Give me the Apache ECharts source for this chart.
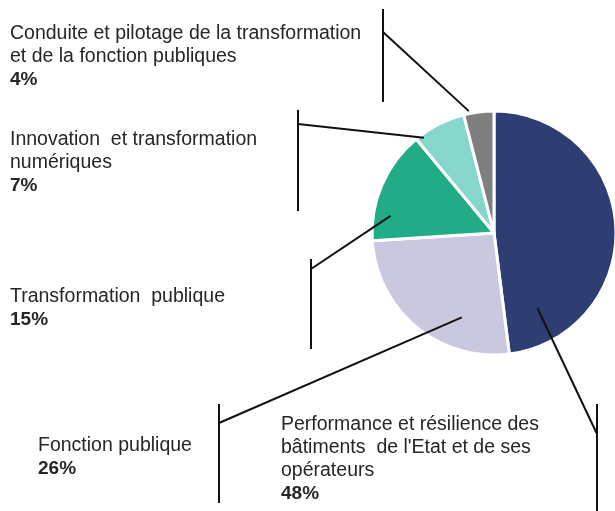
<!DOCTYPE html>
<html><head><meta charset="utf-8">
<script src="https://cdn.jsdelivr.net/npm/echarts@6/dist/echarts.min.js"></script>
<style>html,body{margin:0;padding:0;background:#fff}#c{width:615px;height:511px}</style>
</head><body><div id="c"></div>
<script>
// Data
const categories = [
  "Performance et résilience des\nbâtiments  de l'Etat et de ses\nopérateurs",
  "Fonction publique",
  "Transformation  publique",
  "Innovation  et transformation\nnumériques",
  "Conduite et pilotage de la transformation\net de la fonction publiques"
];
const shares = [48, 26, 15, 7, 4];
const colors = ["#2E3D72", "#C9C8DF", "#22AB87", "#86D6CB", "#7F7F7F"];

// Layout (pixels)
const CX = 494, CY = 233, R = 122;
const labelPos = [[281, 413], [38, 434], [10, 285], [10, 128], [10, 22]];
// anchor: [fraction along slice angle, fraction of radius]
const anchors = [[0.868, 0.71], [0.30, 0.74], [0.24, 0.86], [0.13, 0.97], [0.19, 1.02]];
const junctions = [[597, 434], [219, 423], [311, 269], [298, 124], [383, 32]];
const bars = [[404, 511], [404, 503], [259, 349], [110, 211], [9, 102]];

const total = shares.reduce((a, b) => a + b, 0);
const graphics = [];
let acc = 0;
shares.forEach((v, i) => {
  const a0 = acc / total * 360, sweep = v / total * 360;
  acc += v;
  const ang = (a0 + anchors[i][0] * sweep) * Math.PI / 180;
  const r = anchors[i][1] * R;
  const p0 = [CX + r * Math.sin(ang), CY - r * Math.cos(ang)];
  graphics.push({ type: 'polyline', z: 100, shape: { points: [p0, junctions[i]] },
    style: { stroke: '#111', lineWidth: 2, fill: null } });
  graphics.push({ type: 'line', z: 100, shape: { x1: junctions[i][0], y1: bars[i][0], x2: junctions[i][0], y2: bars[i][1] },
    style: { stroke: '#111', lineWidth: 2 } });
});

const FONT = 'Liberation Sans, Arial, sans-serif';
const chart = echarts.init(document.getElementById('c'));
chart.setOption({
  animation: false,
  backgroundColor: '#fff',
  graphic: graphics,
  series: [{
    type: 'pie',
    center: [CX, CY],
    radius: R,
    startAngle: 90,
    clockwise: true,
    data: categories.map((n, i) => ({ name: n, value: shares[i], itemStyle: { color: colors[i] } })),
    itemStyle: { borderColor: '#fff', borderWidth: 3 },
    labelLine: { show: false },
    label: {
      show: true,
      position: 'inside',
      overflow: 'none',
      formatter: p => '{n|' + p.name + '}\n{b|' + p.value + '%}',
      rich: {
        n: { fontFamily: FONT, fontSize: 19.5, color: '#262626', lineHeight: 23 },
        b: { fontFamily: FONT, fontSize: 19, fontWeight: 'bold', color: '#262626', lineHeight: 23 }
      }
    },
    labelLayout: p => ({ x: labelPos[p.dataIndex][0], y: labelPos[p.dataIndex][1], align: 'left', verticalAlign: 'top', hideOverlap: false, moveOverlap: false })
  }]
});
</script></body></html>
